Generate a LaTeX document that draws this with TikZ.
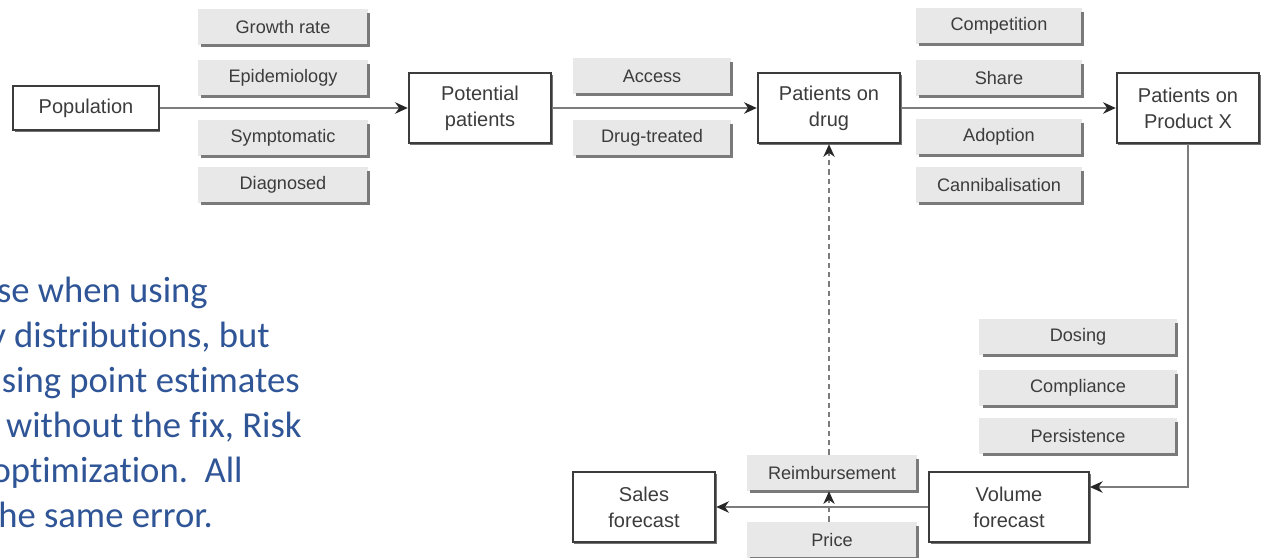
\documentclass[tikz,border=0pt]{standalone}
\usepackage{fontspec}
\setmainfont{Liberation Sans}
\newfontfamily\notefont[Ligatures=NoCommon]{Carlito}
\usetikzlibrary{arrows.meta,shadows}
\definecolor{linegrey}{HTML}{7C7C7C}
\definecolor{boxgrey}{HTML}{E8E8E8}
\definecolor{edgegrey}{HTML}{7A7A7A}
\definecolor{inkgrey}{HTML}{3C3C3C}
\definecolor{noteblue}{HTML}{2F5597}

\begin{document}
\begin{tikzpicture}[x=0.75pt, y=-0.75pt,
    stage/.style = {draw=inkgrey, line width=1.3pt, fill=white,
                    align=center, inner sep=0pt,
                    minimum width=107pt, minimum height=53pt,
                    text=inkgrey, font=\fontsize{15}{19.5}\selectfont,
                    drop shadow={shadow xshift=1.2pt, shadow yshift=-1.6pt,
                                 fill=black!55, opacity=1}},
    factor/.style = {fill=boxgrey, inner sep=0pt, minimum height=27pt,
                     text=inkgrey, font=\fontsize{13.6}{15}\selectfont},
    edge/.style = {draw=edgegrey, line width=2.2pt},
    flow/.style = {draw=linegrey, line width=1.6pt,
                   -{Stealth[length=9.5pt, width=8.5pt, inset=3pt, color=black!85]}},
    link/.style = {flow, line width=1.1pt, dash pattern=on 4pt off 3pt}]

  \useasboundingbox (0,0) rectangle (1262,557);
  \clip (0,0) rectangle (1262,557);

  % Patient flow
  \node[stage, minimum width=109pt, minimum height=33pt] (pop) at (86,108) {Population};
  \node[stage] (pot) at (480,108) {Potential\\patients};
  \node[stage] (drug) at (829,108) {Patients on\\drug};
  \node[stage] (prodx) at (1188,108) {Patients on\\Product X};
  \node[stage, minimum width=120pt] (vol) at (1009,507) {Volume\\forecast};
  \node[stage] (sales) at (644,507) {Sales\\forecast};

  % Population factors
  \node[factor, minimum width=128pt] (growth) at (283,27) {Growth rate};
  \node[factor, minimum width=128pt] (epid) at (283,78) {Epidemiology};
  \node[factor, minimum width=128pt] (sympt) at (283,138) {Symptomatic};
  \node[factor, minimum width=128pt] (diag) at (283,185) {Diagnosed};

  % Access factors
  \node[factor, minimum width=119pt] (access) at (652,76) {Access};
  \node[factor, minimum width=119pt] (treated) at (652,138) {Drug-treated};

  % Share factors
  \node[factor, minimum width=125pt] (compet) at (999,26) {Competition};
  \node[factor, minimum width=125pt] (share) at (999,78) {Share};
  \node[factor, minimum width=125pt] (adopt) at (999,137) {Adoption};
  \node[factor, minimum width=125pt] (cannib) at (999,185) {Cannibalisation};

  % Volume factors
  \node[factor, minimum width=148pt] (dosing) at (1078,337) {Dosing};
  \node[factor, minimum width=148pt] (compl) at (1078,388) {Compliance};
  \node[factor, minimum width=148pt] (persist) at (1078,436) {Persistence};

  % Price factors
  \node[factor, minimum width=128pt] (reimb) at (832,473) {Reimbursement};
  \node[factor, minimum width=128pt] (price) at (832,540) {Price};

  % Factor box edges
  \foreach \f in {growth,epid,sympt,diag,access,treated,compet,share,adopt,
                  cannib,dosing,compl,persist,reimb,price}
    \draw[edge] ([yshift=-3pt]\f.north east) -- (\f.south east) -- ([xshift=3pt]\f.south west);

  % Connectors
  \draw[flow] (pop) -- (pot);
  \draw[flow] (pot) -- (drug);
  \draw[flow] (drug) -- (prodx);
  \draw[flow] (prodx.south) |- ([yshift=15pt]vol.east);
  \draw[flow] (vol) -- (sales);
  \draw[link] (price.north -| drug.south) -- (reimb.south -| drug.south);
  \draw[link] (reimb.north -| drug.south) -- (drug.south);

  % Note text
  \begin{scope}[every node/.style={anchor=base east, inner sep=0pt, text=noteblue,
                                   font=\notefont\fontsize{27.5}{33}\selectfont}]
    \node (note1) at (208,302) {se when using};
    \node (note2) at (270,347) {y distributions, but};
    \node (note3) at (300,392) {sing point estimates};
    \node (note4) at (302,437) {without the fix, Risk};
    \node (note5) at (243,482) {optimization.\ \ All};
    \node (note6) at (213,527) {he same error.};
  \end{scope}

\end{tikzpicture}
\end{document}
